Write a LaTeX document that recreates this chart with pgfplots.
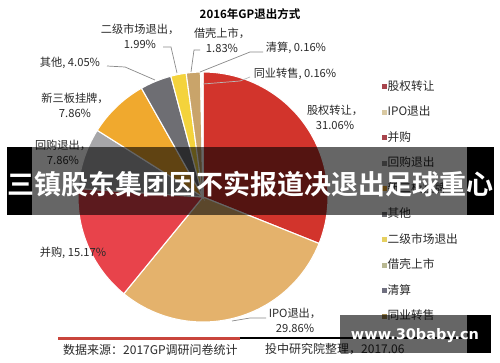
\documentclass[border=0pt]{standalone}
\usepackage{pgfplots}
\pgfplotsset{compat=1.18}
\usepackage{fontspec}
\setmainfont{Noto Sans CJK SC}[BoldFont={Noto Sans CJK SC Bold}]
\newfontfamily\wm{DejaVu Sans}
\definecolor{sA}{HTML}{D2342C}
\definecolor{sB}{HTML}{E4B26C}
\definecolor{sC}{HTML}{E8434B}
\definecolor{sD}{HTML}{A6A6A9}
\definecolor{sE}{HTML}{F0A92E}
\definecolor{sF}{HTML}{6E6E73}
\definecolor{sG}{HTML}{F4D33C}
\definecolor{sH}{HTML}{C9A46A}
\definecolor{sI}{HTML}{8A8A95}
\definecolor{sJ}{HTML}{B09560}
\definecolor{lA}{HTML}{A8444C}
\definecolor{lB}{HTML}{D9C9A2}
\definecolor{lD}{HTML}{8C8C8C}
\definecolor{lG}{HTML}{E6D060}
\definecolor{lH}{HTML}{B8B892}
\definecolor{lI}{HTML}{707080}
\definecolor{lJ}{HTML}{A08850}
\definecolor{txt}{HTML}{2A2A2A}
\definecolor{lead}{HTML}{8A8A8A}
\definecolor{srcred}{HTML}{C9453C}
% a1 a2 fill legendcolor name
\newcommand\slice[5]{%
  \addplot[fill=#3, draw=white, line width=1.1pt, domain=#1:#2, samples=90, variable=\t,
    legend image post style={fill=#4}]
    ({203+125*cos(\t)},{197-125*sin(\t)}) -- (axis cs:203,197) -- cycle;
  \addlegendentry{#5}}
\begin{document}
\begin{tikzpicture}
\fill[white] (0pt,0pt) rectangle (500pt,362pt);
\begin{axis}[at={(0pt,0pt)}, anchor=south west, hide axis, scale only axis,
  width=500pt, height=362pt, xmin=0, xmax=500, ymin=0, ymax=362, y dir=reverse, clip=false,
  legend style={at={(axis description cs:0.757,0.785)}, anchor=north west, draw=none, fill=none,
    font=\fontsize{11.7}{12}\selectfont, row sep=12.5pt, text=txt,
    nodes={inner sep=1pt, text height=9pt, text depth=2pt}},
  legend cell align=left,
  legend image code/.code={\fill[#1,draw=none] (0pt,-2.5pt) rectangle (5pt,2.5pt);}]
\slice{-21.816}{90}{sA}{lA}{股权转让}
\slice{-129.312}{-21.816}{sB}{lB}{IPO退出}
\slice{-183.924}{-129.312}{sC}{lA}{并购}
\slice{-212.22}{-183.924}{sD}{lD}{回购退出}
\slice{-240.516}{-212.22}{sE}{sE}{新三板挂牌}
\slice{-255.096}{-240.516}{sF}{sF}{其他}
\slice{-262.26}{-255.096}{sG}{lG}{二级市场退出}
\slice{-268.848}{-262.26}{sH}{lH}{借壳上市}
\slice{-269.424}{-268.848}{sI}{lI}{清算}
\slice{-270}{-269.424}{sJ}{lJ}{同业转售}
\end{axis}
\begin{scope}[x=1pt, y=-1pt, shift={(0pt,362pt)}]
% leader lines
\draw[lead, line width=0.7pt] (163,47) -- (171,47) -- (177,73);
\draw[lead, line width=0.7pt] (200,50) -- (194,50) -- (191,72);
\draw[lead, line width=0.7pt] (200,72) -- (250,52) -- (263,52);
\draw[lead!60!white, line width=0.7pt] (203,84) -- (240,81) -- (250,77);
\draw[lead, line width=0.7pt] (107,66) -- (125,67) -- (155,80);
\draw[lead, line width=0.7pt] (232,321) -- (250,318) -- (266,318);
% title
\node[font=\fontsize{11.5}{12}\selectfont\bfseries, text=black] at (250,14) {2016年GP退出方式};
% labels
\begin{scope}[every node/.style={font=\fontsize{11.2}{14.8}\selectfont, text=txt, align=center, inner sep=0pt}]
\node at (140,36) {二级市场退出，\\1.99\%};
\node at (222,40) {借壳上市，\\1.83\%};
\node at (296,48) {清算, 0.16\%};
\node at (295,74) {同业转售, 0.16\%};
\node at (335,117) {股权转让，\\31.06\%};
\node at (70,63) {其他, 4.05\%};
\node at (75,105) {新三板挂牌，\\7.86\%};
\node at (63,152) {回购退出，\\7.86\%};
\node at (73,253) {并购, 15.17\%};
\node at (295,320) {IPO退出，\\29.86\%};
\end{scope}
% source line
\draw[srcred, line width=3pt] (58,338) -- (240,338);
\draw[black, line width=2pt] (240,338) -- (467,338);
\node[anchor=west, font=\fontsize{12}{12}\selectfont, text=txt, inner sep=0pt] at (63,350) {数据来源：2017GP调研问卷统计};
\node[anchor=west, font=\fontsize{12}{12}\selectfont, text=txt, inner sep=0pt] at (265,349) {投中研究院整理，2017.06};
% banner
\fill[black, opacity=0.6] (32,147) rectangle (467,215);
\fill[black] (7,147) rectangle (32,215);
\fill[black] (467,147) rectangle (494,215);
\node[text=white, font=\fontsize{27}{27}\selectfont\bfseries, inner sep=0pt] at (250,184) {三镇股东集团因不实报道决退出足球重心};
% watermark
\fill[black, opacity=0.6] (340,315) rectangle (467,353);
\fill[black] (467,315) rectangle (491,353);
\node[text=white, font=\wm\fontsize{14.5}{15}\selectfont\bfseries, inner sep=0pt] at (415,336) {www.30baby.cn};
\end{scope}
\end{tikzpicture}
\end{document}
